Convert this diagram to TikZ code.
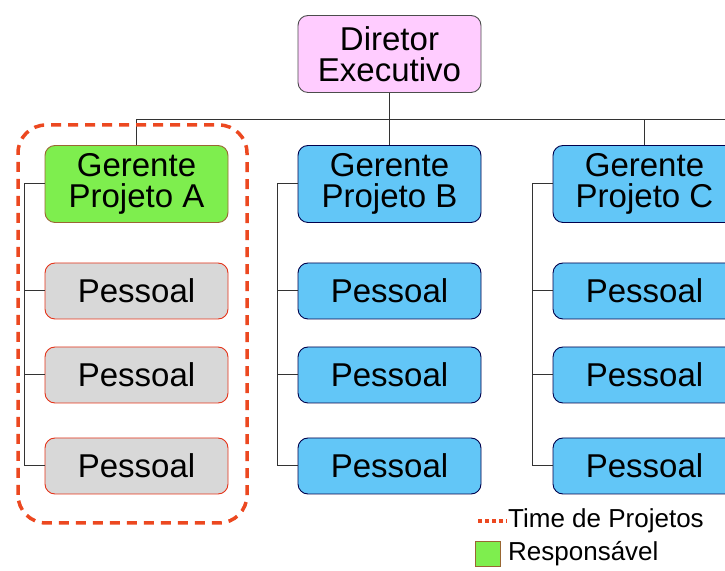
\documentclass[tikz,border=0pt]{standalone}
\usepackage{fontspec}
\setmainfont{Liberation Sans}
\usetikzlibrary{positioning}
\usepackage{xcolor}

\definecolor{rosa}{RGB}{255,204,255}
\definecolor{verde}{RGB}{126,238,78}
\definecolor{azul}{RGB}{98,198,247}
\definecolor{cinza}{RGB}{216,216,216}
\definecolor{timeA}{RGB}{236,72,32}

\begin{document}
\begin{tikzpicture}[x=1pt, y=1pt,
      bb/.style={draw,rounded corners=10pt,minimum width=183pt,
                 minimum height=77pt,align=center,line width=0.9pt,
                 font=\fontsize{33}{31}\selectfont},
      pp/.style={bb,minimum height=56pt},
      chefe/.style={fill=rosa,draw=black!70},
      resp/.style={fill=verde,draw=brown!80!black},
      equipe/.style={fill=azul,draw=blue!30!black},
      grupo/.style={fill=cinza,draw=red!60!brown},
      liga/.style={draw=black!80,line width=1pt}]
    \clip (0,0) rectangle (725,570);
    \fill[white] (0,0) rectangle (725,570);

    \node[bb,chefe] (dir) at (389.5,516) {Diretor\\Executivo};
    \node[bb,resp]   (gA) at (136.5,386) {Gerente\\Projeto A};
    \node[bb,equipe] (gB) at (389.5,386) {Gerente\\Projeto B};
    \node[bb,equipe] (gC) at (644.5,386) {Gerente\\Projeto C};

    % staff under each manager
    \foreach \p/\x/\s in {A/136.5/grupo,B/389.5/equipe,C/644.5/equipe}
      \foreach \i/\y in {1/279,2/195,3/104}
        \node[pp,\s] (p\p\i) at (\x,\y) {Pessoal};

    % links
    \coordinate (fim) at (725,450);
    \draw[liga] (gA.north) |- (fim);
    \draw[liga] (dir) -- (gB);
    \draw[liga] (gC.north) -- (gC.north |- fim);
    \foreach \p in {A,B,C}{
      \draw[liga] (g\p.west) -- ++(-20,0) |- (p\p3.west);
      \foreach \i in {1,2}
        \draw[liga] (p\p\i.west) -- ++(-20,0);
    }

    % project team A
    \draw[timeA,line width=3.5pt,dash pattern=on 10pt off 7pt,rounded corners=28pt]
      (18,47) rectangle (247,445);

    % legend
    \coordinate (leg0) at (478,49);
    \node[right,inner sep=1pt,font=\fontsize{26}{28}\selectfont] (leg1) at (507,49) {Time de Projetos};
    \draw[timeA,line width=4pt,dash pattern=on 4pt off 3pt] (leg0) -- (leg1.west);
    \node[resp,line width=0.9pt,minimum size=25pt,inner sep=0pt] (quad) at (488,16.5) {};
    \node[right=6pt of quad,inner sep=1pt,font=\fontsize{26}{28}\selectfont] (leg2) {Responsável};
  \end{tikzpicture}
\end{document}
